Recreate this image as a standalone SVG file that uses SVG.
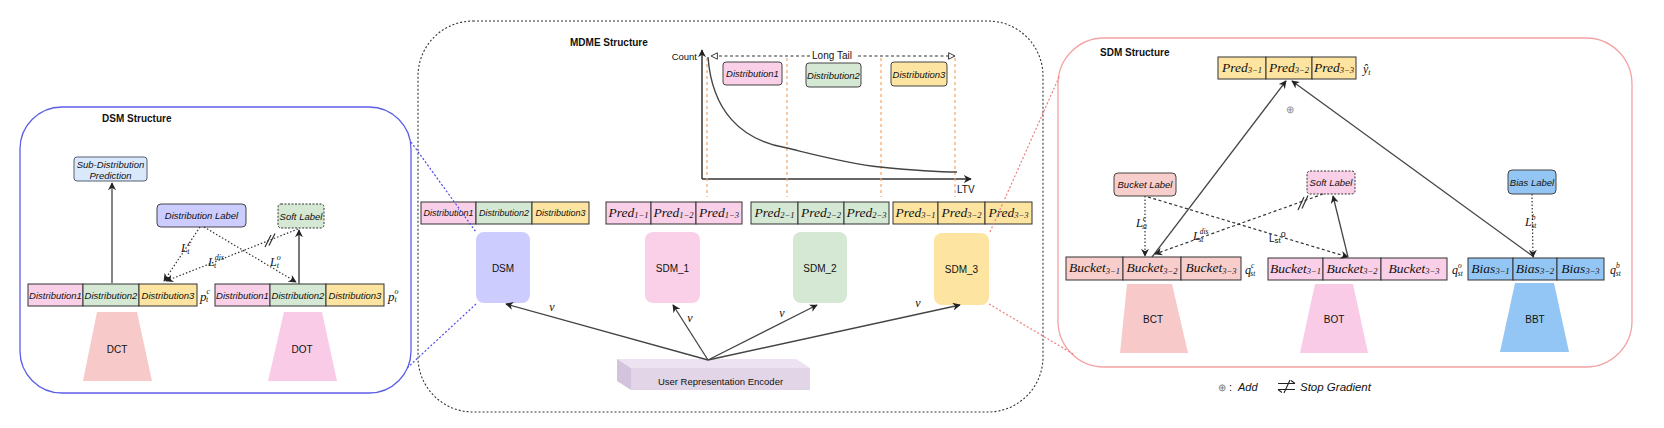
<svg xmlns="http://www.w3.org/2000/svg" width="1664" height="428" viewBox="0 0 1664 428">
<defs>
<style>
text{font-family:"Liberation Sans",Arial,sans-serif;fill:#111;dominant-baseline:central}
.c{text-anchor:middle}
.s9{font-size:9px}
.s95{font-size:9.5px}
.s10{font-size:10px}
.it{font-style:italic}
.b{font-weight:bold;font-size:10px}
.m{font-family:"Liberation Serif","Times New Roman",serif;font-style:italic}
.cell{stroke:#333;stroke-width:1}
.lbl{stroke:#444;stroke-width:1}
.pink{fill:#f9d0e8}
.green{fill:#d5e8d4}
.yellow{fill:#fde4a0}
.lav{fill:#ccccff}
.red{fill:#f8cecc}
.blue{fill:#94c6f5}
.dash{fill:none;stroke:#333;stroke-width:1.2;stroke-dasharray:3 2.5}
.dot{fill:none;stroke:#333;stroke-width:1.2;stroke-dasharray:1.5 2}
.solid{fill:none;stroke:#444;stroke-width:1.3}
.orange{fill:none;stroke:#f6a561;stroke-width:1.2;stroke-dasharray:3 3}
.axis{fill:none;stroke:#333;stroke-width:1.5}
</style>
<marker id="ah" viewBox="0 0 10 10" refX="9" refY="5" markerWidth="8" markerHeight="8" markerUnits="userSpaceOnUse" orient="auto"><path d="M0,0 L10,5 L0,10 L3,5 z" fill="#222"/></marker>
<marker id="oh" viewBox="0 0 10 10" refX="9" refY="5" markerWidth="8" markerHeight="8" markerUnits="userSpaceOnUse" orient="auto"><path d="M1,1 L9,5 L1,9 z" fill="#fff" stroke="#333" stroke-width="1.2"/></marker>
</defs>
<rect width="1664" height="428" fill="#ffffff"/>

<!-- ============ DSM panel ============ -->
<g id="dsm-panel">
<rect x="20" y="107" width="391" height="286" rx="42" fill="none" stroke="#5d5de8" stroke-width="1.3"/>
<text x="102" y="118" class="b">DSM Structure</text>
</g>
<g id="subdist-pred">
<rect x="74" y="157" width="73" height="24" rx="3" fill="#dae8fc" stroke="#556070"/>
<text x="110.5" y="164" class="c s95 it">Sub-Distribution</text>
<text x="110.5" y="175" class="c s95 it">Prediction</text>
</g>
<g id="dist-label">
<rect x="157" y="204" width="89" height="23" rx="4" class="lav lbl"/>
<text x="201.5" y="215.5" class="c s95 it">Distribution Label</text>
</g>
<g id="dsm-soft-label">
<rect x="278" y="204" width="46" height="24" rx="3" class="green" stroke="#333" stroke-dasharray="2 1.5"/>
<text x="301" y="216" class="c s95 it">Soft Label</text>
</g>
<g id="dsm-bar-c">
<rect x="28" y="284" width="55" height="22" class="pink cell"/>
<rect x="83" y="284" width="56" height="22" class="green cell"/>
<rect x="139" y="284" width="58" height="22" class="yellow cell"/>
<text x="55.5" y="295" class="c s95 it">Distribution1</text>
<text x="111" y="295" class="c s95 it">Distribution2</text>
<text x="168" y="295" class="c s95 it">Distribution3</text>
<text x="200" y="296" class="m" font-size="13">p<tspan font-size="8" dy="-5">c</tspan><tspan font-size="8" dx="-4" dy="8">t</tspan></text>
</g>
<g id="dsm-bar-o">
<rect x="215" y="284" width="55" height="22" class="pink cell"/>
<rect x="270" y="284" width="56" height="22" class="green cell"/>
<rect x="326" y="284" width="58" height="22" class="yellow cell"/>
<text x="242.5" y="295" class="c s95 it">Distribution1</text>
<text x="298" y="295" class="c s95 it">Distribution2</text>
<text x="355" y="295" class="c s95 it">Distribution3</text>
<text x="388" y="296" class="m" font-size="13">p<tspan font-size="8" dy="-5">o</tspan><tspan font-size="8" dx="-4" dy="8">t</tspan></text>
</g>
<g id="dct">
<polygon points="97,312 137,312 152,381 83,381" fill="#f8c9c9"/>
<text x="117" y="349" class="c s10">DCT</text>
</g>
<g id="dot">
<polygon points="284,312 322,312 337,381 268,381" fill="#f9cbe6"/>
<text x="302" y="349" class="c s10">DOT</text>
</g>

<!-- ============ MDME panel ============ -->
<g id="mdme-panel">
<rect x="418" y="21" width="625" height="391" rx="55" fill="none" stroke="#333" stroke-width="1.1" stroke-dasharray="2 2"/>
<text x="570" y="42" class="b">MDME Structure</text>
</g>
<g id="chart">
<path d="M702,179 L702,50" class="axis" marker-end="url(#ah)"/>
<path d="M702,179 L971,179" class="axis" marker-end="url(#ah)"/>
<text x="697" y="56" class="s95" text-anchor="end">Count</text>
<text x="957" y="189" class="s10">LTV</text>
<path d="M707,58 L707,197 M787,58 L787,197 M881,58 L881,197 M955,58 L955,197" class="orange"/>
<path d="M708,57 C712,110 740,140 787,148 C820,156 850,164 880,167 C910,170 935,172 957,172" fill="none" stroke="#444" stroke-width="1.4"/>
<path d="M810,56 L711,56" class="dash" marker-end="url(#oh)"/>
<path d="M858,56 L955,56" class="dash" marker-end="url(#oh)"/>
<text x="832" y="55" class="c s10">Long Tail</text>
</g>
<g id="chart-dist1">
<rect x="723" y="62" width="59" height="23" rx="3" class="pink lbl"/>
<text x="752.5" y="73.5" class="c s95 it">Distribution1</text>
</g>
<g id="chart-dist2">
<rect x="806" y="63" width="55" height="24" rx="3" class="green lbl"/>
<text x="833.5" y="75" class="c s95 it">Distribution2</text>
</g>
<g id="chart-dist3">
<rect x="891" y="62" width="56" height="24" rx="3" class="yellow lbl"/>
<text x="919" y="74" class="c s95 it">Distribution3</text>
</g>
<g id="mdme-dist-bar">
<rect x="421" y="202" width="55" height="22" class="pink cell"/>
<rect x="476" y="202" width="56" height="22" class="green cell"/>
<rect x="532" y="202" width="57" height="22" class="yellow cell"/>
<text x="448.5" y="213" class="c s9 it">Distribution1</text>
<text x="504" y="213" class="c s9 it">Distribution2</text>
<text x="560.5" y="213" class="c s9 it">Distribution3</text>
</g>
<g id="pred1-bar">
<rect x="606" y="202" width="45" height="22" class="pink cell"/>
<rect x="651" y="202" width="45" height="22" class="pink cell"/>
<rect x="696" y="202" width="46" height="22" class="pink cell"/>
<text x="628.5" y="212" class="c m" font-size="13.5">Pred<tspan font-size="8.5" dy="3">1−1</tspan></text>
<text x="673.5" y="212" class="c m" font-size="13.5">Pred<tspan font-size="8.5" dy="3">1−2</tspan></text>
<text x="719" y="212" class="c m" font-size="13.5">Pred<tspan font-size="8.5" dy="3">1−3</tspan></text>
</g>
<g id="pred2-bar">
<rect x="751" y="202" width="47" height="22" class="green cell"/>
<rect x="798" y="202" width="46" height="22" class="green cell"/>
<rect x="844" y="202" width="45" height="22" class="green cell"/>
<text x="774.5" y="212" class="c m" font-size="13.5">Pred<tspan font-size="8.5" dy="3">2−1</tspan></text>
<text x="821" y="212" class="c m" font-size="13.5">Pred<tspan font-size="8.5" dy="3">2−2</tspan></text>
<text x="866.5" y="212" class="c m" font-size="13.5">Pred<tspan font-size="8.5" dy="3">2−3</tspan></text>
</g>
<g id="pred3-bar">
<rect x="893" y="202" width="45" height="22" class="yellow cell"/>
<rect x="938" y="202" width="47" height="22" class="yellow cell"/>
<rect x="985" y="202" width="47" height="22" class="yellow cell"/>
<text x="915.5" y="212" class="c m" font-size="13.5">Pred<tspan font-size="8.5" dy="3">3−1</tspan></text>
<text x="961.5" y="212" class="c m" font-size="13.5">Pred<tspan font-size="8.5" dy="3">3−2</tspan></text>
<text x="1008.5" y="212" class="c m" font-size="13.5">Pred<tspan font-size="8.5" dy="3">3−3</tspan></text>
</g>
<g id="dsm-node">
<rect x="476" y="232" width="54" height="71" rx="8" class="lav"/>
<text x="503" y="268" class="c s10">DSM</text>
</g>
<g id="sdm1-node">
<rect x="645" y="232" width="55" height="71" rx="8" class="pink"/>
<text x="672.5" y="268" class="c s10">SDM_1</text>
</g>
<g id="sdm2-node">
<rect x="793" y="232" width="54" height="71" rx="8" class="green"/>
<text x="820" y="268" class="c s10">SDM_2</text>
</g>
<g id="sdm3-node">
<rect x="934" y="233" width="55" height="72" rx="8" class="yellow"/>
<text x="961.5" y="269" class="c s10">SDM_3</text>
</g>
<g id="encoder">
<polygon points="617,359 796,359 810,368 631,368" fill="#ece2f1"/>
<polygon points="617,359 631,368 631,390 617,381" fill="#d3c3dc"/>
<rect x="631" y="368" width="179" height="22" fill="#e1d5e7"/>
<text x="720.5" y="381" class="c s95">User Representation Encoder</text>
</g>

<!-- ============ SDM panel ============ -->
<g id="sdm-panel">
<rect x="1058" y="38" width="574" height="329" rx="46" fill="none" stroke="#f4a3a3" stroke-width="1.3"/>
<text x="1100" y="52" class="b">SDM Structure</text>
<text x="1290" y="109" class="c" font-family="DejaVu Sans, sans-serif" font-size="10" fill="#888" style="fill:#888">⊕</text>
</g>
<g id="sdm-pred3-bar">
<rect x="1218" y="57" width="48" height="22" class="yellow cell"/>
<rect x="1266" y="57" width="46" height="22" class="yellow cell"/>
<rect x="1312" y="57" width="44" height="22" class="yellow cell"/>
<text x="1242" y="67" class="c m" font-size="13.5">Pred<tspan font-size="8.5" dy="3">3−1</tspan></text>
<text x="1289" y="67" class="c m" font-size="13.5">Pred<tspan font-size="8.5" dy="3">3−2</tspan></text>
<text x="1334" y="67" class="c m" font-size="13.5">Pred<tspan font-size="8.5" dy="3">3−3</tspan></text>
<text x="1363" y="69" class="m" font-size="12">ŷ<tspan font-size="8" dy="3">t</tspan></text>
</g>
<g id="bucket-label">
<rect x="1114" y="173" width="62" height="23" rx="4" class="red lbl"/>
<text x="1145" y="184.5" class="c s95 it">Bucket Label</text>
</g>
<g id="sdm-soft-label">
<rect x="1307" y="171" width="48" height="23" rx="3" class="pink" stroke="#333" stroke-dasharray="2 1.5"/>
<text x="1331" y="182.5" class="c s95 it">Soft Label</text>
</g>
<g id="bias-label">
<rect x="1508" y="170" width="48" height="24" rx="4" class="blue lbl"/>
<text x="1532" y="182" class="c s95 it">Bias Label</text>
</g>
<g id="bct-bar">
<rect x="1066" y="257" width="57" height="23" class="red cell"/>
<rect x="1123" y="257" width="58" height="23" class="red cell"/>
<rect x="1181" y="257" width="60" height="23" class="red cell"/>
<text x="1094.5" y="267.5" class="c m" font-size="13.5">Bucket<tspan font-size="8.5" dy="3">3−1</tspan></text>
<text x="1152" y="267.5" class="c m" font-size="13.5">Bucket<tspan font-size="8.5" dy="3">3−2</tspan></text>
<text x="1211" y="267.5" class="c m" font-size="13.5">Bucket<tspan font-size="8.5" dy="3">3−3</tspan></text>
<text x="1245" y="270" class="m" font-size="12">q<tspan font-size="7.5" dy="-5">c</tspan><tspan font-size="7.5" dx="-4" dy="8">st</tspan></text>
</g>
<g id="bot-bar">
<rect x="1268" y="258" width="55" height="22" class="pink cell"/>
<rect x="1323" y="258" width="58" height="22" class="pink cell"/>
<rect x="1381" y="258" width="66" height="22" class="pink cell"/>
<text x="1295.5" y="268" class="c m" font-size="13.5">Bucket<tspan font-size="8.5" dy="3">3−1</tspan></text>
<text x="1352" y="268" class="c m" font-size="13.5">Bucket<tspan font-size="8.5" dy="3">3−2</tspan></text>
<text x="1414" y="268" class="c m" font-size="13.5">Bucket<tspan font-size="8.5" dy="3">3−3</tspan></text>
<text x="1452" y="270" class="m" font-size="12">q<tspan font-size="7.5" dy="-5">o</tspan><tspan font-size="7.5" dx="-4" dy="8">st</tspan></text>
</g>
<g id="bias-bar">
<rect x="1468" y="258" width="45" height="22" class="blue cell"/>
<rect x="1513" y="258" width="44" height="22" class="blue cell"/>
<rect x="1557" y="258" width="47" height="22" class="blue cell"/>
<text x="1490.5" y="268" class="c m" font-size="13.5">Bias<tspan font-size="8.5" dy="3">3−1</tspan></text>
<text x="1535" y="268" class="c m" font-size="13.5">Bias<tspan font-size="8.5" dy="3">3−2</tspan></text>
<text x="1580.5" y="268" class="c m" font-size="13.5">Bias<tspan font-size="8.5" dy="3">3−3</tspan></text>
<text x="1610" y="270" class="m" font-size="12">q<tspan font-size="7.5" dy="-5">b</tspan><tspan font-size="7.5" dx="-4" dy="8">st</tspan></text>
</g>
<g id="bct">
<polygon points="1127,284 1172,284 1188,353 1120,353" fill="#f8c9c9"/>
<text x="1153" y="319" class="c s10">BCT</text>
</g>
<g id="bot">
<polygon points="1315,284 1353,284 1368,353 1300,353" fill="#f9cbe6"/>
<text x="1334" y="319" class="c s10">BOT</text>
</g>
<g id="bbt">
<polygon points="1515,283 1554,283 1569,352 1500,352" fill="#94c6f5"/>
<text x="1535" y="319" class="c s10">BBT</text>
</g>

<g id="legend">
<text x="1218" y="387" font-family="DejaVu Sans, sans-serif" font-size="10" style="fill:#777">⊕</text>
<text x="1229" y="387" font-size="11">:</text>
<text x="1238" y="387" font-size="11" class="it">Add</text>
<path d="M1278,383.5 L1295,383.5 M1291,380.5 L1295,383.5 M1278,389.5 L1295,389.5 M1278,389.5 L1282,392.5 M1284,393 L1290,380" fill="none" stroke="#222" stroke-width="1.1"/>
<text x="1300" y="387" font-size="11.5" class="it">Stop Gradient</text>
</g>

<!-- ============ connectors ============ -->
<g id="connectors">
<!-- DSM panel -->
<path d="M112,283 L112,183" class="solid" marker-end="url(#ah)"/>
<path d="M200,227 L164,281" class="dot" marker-end="url(#ah)"/>
<path d="M204,227 L296,282" class="dot" marker-end="url(#ah)"/>
<path d="M298,229 L166,281" class="dot" marker-end="url(#ah)"/>
<path d="M265,247 L271,235 M269,245.5 L275,233.5" fill="none" stroke="#333" stroke-width="1.2"/>
<path d="M299,284 L299,230" fill="none" stroke="#555" stroke-width="1.6" marker-end="url(#ah)"/>
<text x="181" y="248" class="m" font-size="12">L<tspan font-size="8" dy="-5">c</tspan><tspan font-size="8" dx="-4" dy="8">t</tspan></text>
<text x="208" y="262" class="m" font-size="12">L<tspan font-size="8" dy="-5">dis</tspan><tspan font-size="8" dx="-10" dy="8">t</tspan></text>
<text x="270" y="262" class="m" font-size="12">L<tspan font-size="8" dy="-5">o</tspan><tspan font-size="8" dx="-4" dy="8">t</tspan></text>
<!-- panel links -->
<path d="M411,142 L476,232 M476,304 L407,368" fill="none" stroke="#4b4bf0" stroke-width="1.2" stroke-dasharray="2 2"/>
<path d="M990,232 L1060,75 M989,304 L1075,355" fill="none" stroke="#f27c7c" stroke-width="1.2" stroke-dasharray="2 2"/>
<!-- MDME -->
<path d="M708,360 L506,304" class="solid" marker-end="url(#ah)"/>
<path d="M708,360 L673,305" class="solid" marker-end="url(#ah)"/>
<path d="M708,360 L817,305" class="solid" marker-end="url(#ah)"/>
<path d="M708,360 L960,305" class="solid" marker-end="url(#ah)"/>
<text x="552" y="307" class="c m" font-size="12">v</text>
<text x="690" y="318" class="c m" font-size="12">v</text>
<text x="782" y="313" class="c m" font-size="12">v</text>
<text x="918" y="303" class="c m" font-size="12">v</text>
<!-- SDM -->
<path d="M1152,257 L1286,81" class="solid" marker-end="url(#ah)"/>
<path d="M1534,257 L1292,81" class="solid" marker-end="url(#ah)"/>
<path d="M1145,196 L1145,256" class="dot" marker-end="url(#ah)"/>
<path d="M1148,197 L1348,257" class="dash" marker-end="url(#ah)"/>
<path d="M1323,194 L1155,254" class="dash" marker-end="url(#ah)"/>
<path d="M1298,210 L1304,197 M1302,208.5 L1308,195.5" fill="none" stroke="#333" stroke-width="1.2"/>
<path d="M1348,257 L1333,196" class="solid" marker-end="url(#ah)"/>
<path d="M1532,194 L1533,257" class="dot" marker-end="url(#ah)"/>
<text x="1136" y="223" class="m" font-size="12">L<tspan font-size="7.5" dy="-5">c</tspan><tspan font-size="7.5" dx="-4" dy="8">st</tspan></text>
<text x="1193" y="236" class="m" font-size="12">L<tspan font-size="7.5" dy="-5">dis</tspan><tspan font-size="7.5" dx="-10" dy="8">st</tspan></text>
<text x="1269" y="238" font-size="10">L<tspan font-size="8" dy="2">st</tspan><tspan font-size="9" dy="-6">o</tspan></text>
<text x="1525" y="222" class="m" font-size="12">L<tspan font-size="7.5" dy="-5">b</tspan><tspan font-size="7.5" dx="-4" dy="8">st</tspan></text>
</g>
</svg>
